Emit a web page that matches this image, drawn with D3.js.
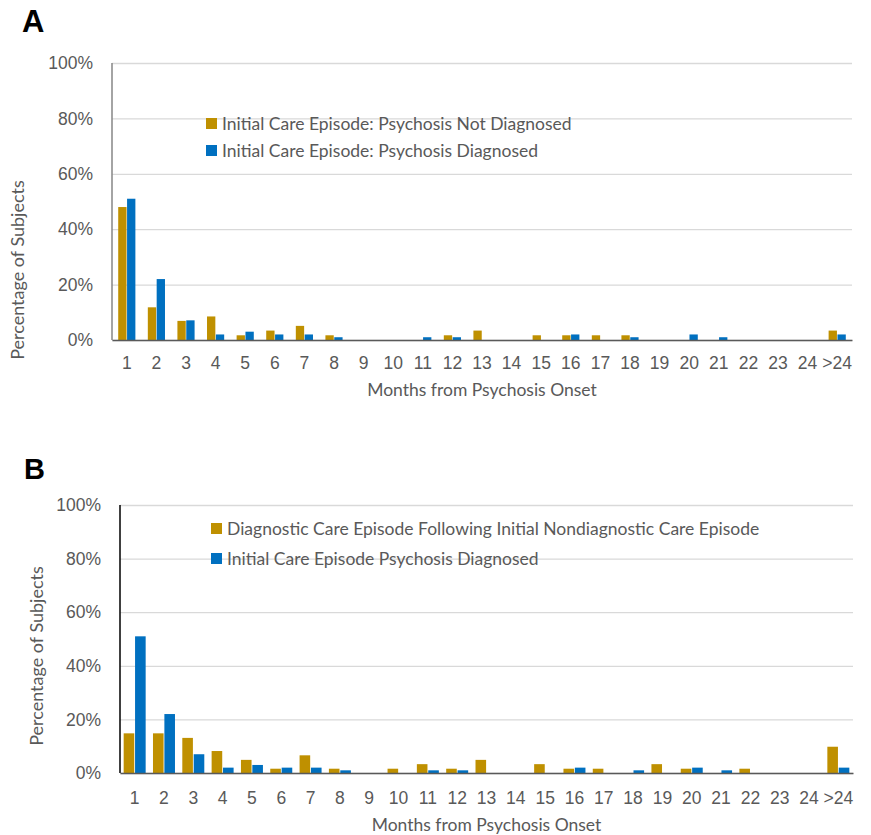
<!DOCTYPE html>
<html>
<head>
<meta charset="utf-8">
<script src="https://cdn.jsdelivr.net/npm/d3@7"></script>
<style>
  body { margin: 0; background: #fff; }
  svg { display: block; font-family: Lato, "Open Sans", sans-serif; }
</style>
</head>
<body>
<div id="chart"></div>
<script>
const months = ['1', '2', '3', '4', '5', '6', '7', '8', '9', '10', '11', '12', '13',
    '14', '15', '16', '17', '18', '19', '20', '21', '22', '23', '24', '>24'];
const yTicks = [0, 20, 40, 60, 80, 100];

// panel A
const seriesA = ['Initial Care Episode: Psychosis Not Diagnosed', 'Initial Care Episode: Psychosis Diagnosed'];
const notDiagnosedA = [48, 11.8, 6.9, 8.5, 1.7, 3.4, 5.1, 1.7, 0, 0, 0, 1.7, 3.4, 0, 1.7, 1.7, 1.7, 1.7, 0, 0, 0, 0, 0, 0, 3.4];
const diagnosedA = [51, 22, 7.1, 2, 3, 2, 2, 1, 0, 0, 1, 1, 0, 0, 0, 2, 0, 1, 0, 2, 1, 0, 0, 0, 2];

// panel B
const seriesB = ['Diagnostic Care Episode Following Initial Nondiagnostic Care Episode', 'Initial Care Episode Psychosis Diagnosed'];
const followingB = [14.8, 14.8, 13.1, 8.2, 4.9, 1.6, 6.6, 1.6, 0, 1.6, 3.3, 1.6, 4.9, 0, 3.3, 1.6, 1.6, 0, 3.3, 1.6, 0, 1.6, 0, 0, 9.8];
const diagnosedB = [51, 22, 7, 2, 3, 2, 2, 1, 0, 0, 1, 1, 0, 0, 0, 2, 0, 1, 0, 2, 1, 0, 0, 0, 2];

const colors = ['#bf9000', '#0070c0'];
const textColor = '#595959';
const fontSize = 17.5;

const svg = d3.select('#chart')
    .append('svg')
    .attr('width', 871)
    .attr('height', 835);

drawPanel({
    letter: 'A', letterX: 22, letterY: 32, letterSize: 31,
    left: 112, right: 852, top: 63, bottom: 340,
    padding: 0.42, innerPadding: 0.06,
    axisColor: '#868686', xTickPad: 17,
    yTitleX: 18, yTitleY: 270, xTitleY: 396,
    legendX: 206, legendY: 118, legendGap: 27,
    series: seriesA, values: [notDiagnosedA, diagnosedA]
});

drawPanel({
    letter: 'B', letterX: 24, letterY: 479, letterSize: 29,
    left: 120, right: 853, top: 505, bottom: 773,
    padding: 0.25, innerPadding: 0.07,
    axisColor: '#000', xTickPad: 19,
    yTitleX: 37, yTitleY: 656, xTitleY: 831,
    legendX: 211, legendY: 523, legendGap: 30,
    series: seriesB, values: [followingB, diagnosedB]
});

function drawPanel(p) {
    const g = svg.append('g');

    const x0 = d3.scaleBand()
        .domain(months)
        .range([p.left, p.right])
        .paddingInner(p.padding)
        .paddingOuter(p.padding / 2);

    const x1 = d3.scaleBand()
        .domain(p.series)
        .range([0, x0.bandwidth()])
        .paddingInner(p.innerPadding);

    const y = d3.scaleLinear()
        .domain([0, 100])
        .range([p.bottom, p.top]);

    g.append('text')
        .attr('x', p.letterX)
        .attr('y', p.letterY)
        .attr('font-family', 'Liberation Sans, Arial, sans-serif')
        .attr('font-weight', 'bold')
        .attr('font-size', p.letterSize)
        .text(p.letter);

    // gridlines + y labels
    const yAxis = g.append('g')
        .attr('transform', `translate(${p.left},0)`)
        .call(d3.axisLeft(y)
            .tickValues(yTicks)
            .tickSize(-(p.right - p.left))
            .tickPadding(19)
            .tickFormat(d => d + '%'));
    yAxis.select('.domain').remove();
    yAxis.selectAll('line').attr('stroke', '#d9d9d9').attr('stroke-width', 1.3);
    yAxis.selectAll('text')
        .attr('fill', textColor)
        .attr('font-size', fontSize)
        .attr('font-family', null);

    // bars
    p.values.forEach((vals, i) => {
        g.append('g')
            .selectAll('rect')
            .data(vals)
            .enter()
            .append('rect')
            .attr('x', (d, j) => x0(months[j]) + x1(p.series[i]))
            .attr('y', d => y(d))
            .attr('width', x1.bandwidth())
            .attr('height', d => y(0) - y(d))
            .attr('fill', colors[i]);
    });

    // axis lines
    g.append('line')
        .attr('x1', p.left).attr('x2', p.left)
        .attr('y1', p.top).attr('y2', p.bottom)
        .attr('stroke', p.axisColor)
        .attr('stroke-width', 1.5);

    const xAxis = g.append('g')
        .attr('transform', `translate(0,${p.bottom})`)
        .call(d3.axisBottom(x0).tickSize(0).tickPadding(p.xTickPad));
    xAxis.select('.domain')
        .attr('stroke', '#595959')
        .attr('stroke-width', 1.5);
    xAxis.selectAll('text')
        .attr('fill', textColor)
        .attr('font-size', fontSize)
        .attr('font-family', null);

    // titles
    g.append('text')
        .attr('x', (p.left + p.right) / 2)
        .attr('y', p.xTitleY)
        .attr('text-anchor', 'middle')
        .attr('fill', textColor)
        .attr('font-size', fontSize)
        .text('Months from Psychosis Onset');

    g.append('text')
        .attr('transform', `translate(${p.yTitleX},${p.yTitleY}) rotate(-90)`)
        .attr('text-anchor', 'middle')
        .attr('dy', '0.35em')
        .attr('fill', textColor)
        .attr('font-size', 18)
        .text('Percentage of Subjects');

    // legend
    const legend = g.append('g')
        .selectAll('g')
        .data(p.series)
        .enter()
        .append('g')
        .attr('transform', (d, i) => `translate(${p.legendX},${p.legendY + i * p.legendGap})`);
    legend.append('rect')
        .attr('width', 11)
        .attr('height', 11)
        .attr('fill', (d, i) => colors[i]);
    legend.append('text')
        .attr('x', 16)
        .attr('y', 12)
        .attr('fill', textColor)
        .attr('font-size', fontSize)
        .text(d => d);
}
</script>
</body>
</html>
